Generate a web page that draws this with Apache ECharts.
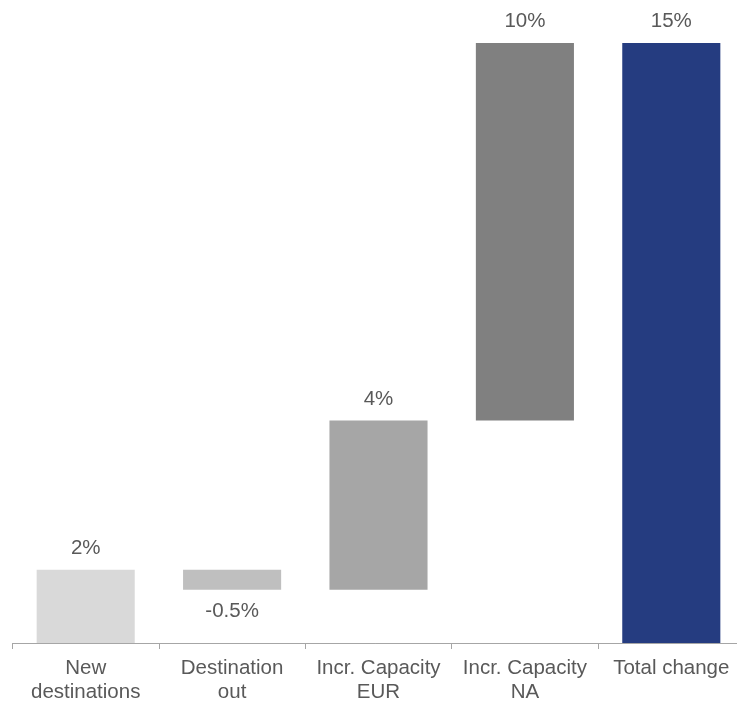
<!DOCTYPE html>
<html>
<head>
<meta charset="utf-8">
<script src="https://cdn.jsdelivr.net/npm/echarts@6/dist/echarts.min.js"></script>
<style>
html,body{margin:0;padding:0;background:#fff;overflow:hidden;}
#chart{width:737px;height:705px;}
</style>
</head>
<body>
<div id="chart"></div>
<script>
// Data
var categories = ['New\ndestinations', 'Destination\nout', 'Incr. Capacity\nEUR', 'Incr. Capacity\nNA', 'Total change'];
var changes = [1.83, -0.5, 4.23, 9.44];
var totalValue = 15;
var valueLabels = ['2%', '-0.5%', '4%', '10%', '15%'];
var barColors = ['#d9d9d9', '#bfbfbf', '#a6a6a6', '#808080', '#253c80'];

// Build waterfall
var bases = [], heights = [];
var cum = 0;
changes.forEach(function (c) {
  var end = cum + c;
  bases.push(Math.min(cum, end));
  heights.push(Math.abs(c));
  cum = end;
});
bases.push(0);
heights.push(totalValue);

var visibleData = heights.map(function (h, i) {
  var neg = i < changes.length && changes[i] < 0;
  return {
    value: h,
    itemStyle: { color: barColors[i] },
    label: { position: neg ? 'bottom' : 'top' }
  };
});

var chart = echarts.init(document.getElementById('chart'), null, { renderer: 'canvas' });
chart.setOption({
  animation: false,
  grid: { left: 12.5, width: 732, top: 43, bottom: 62, containLabel: false, outerBoundsMode: 'none' },
  xAxis: {
    type: 'category',
    data: categories,
    axisLine: { lineStyle: { color: '#a6a6a6', width: 1 } },
    axisTick: { show: true, length: 6, lineStyle: { color: '#a6a6a6' } },
    axisLabel: {
      color: '#595959',
      fontFamily: 'Liberation Sans, Arial, sans-serif',
      fontSize: 20.5,
      lineHeight: 24,
      margin: 13,
      interval: 0,
      hideOverlap: false
    }
  },
  yAxis: {
    type: 'value',
    min: 0,
    max: 15,
    show: false,
    splitLine: { show: false }
  },
  series: [
    {
      type: 'bar',
      stack: 'w',
      data: bases,
      itemStyle: { color: 'transparent' },
      barWidth: '67%',
      silent: true
    },
    {
      type: 'bar',
      stack: 'w',
      data: visibleData,
      barWidth: '67%',
      label: {
        show: true,
        distance: 11,
        color: '#595959',
        fontFamily: 'Liberation Sans, Arial, sans-serif',
        fontSize: 20.5,
        formatter: function (p) { return valueLabels[p.dataIndex]; }
      }
    }
  ]
});
</script>
</body>
</html>
